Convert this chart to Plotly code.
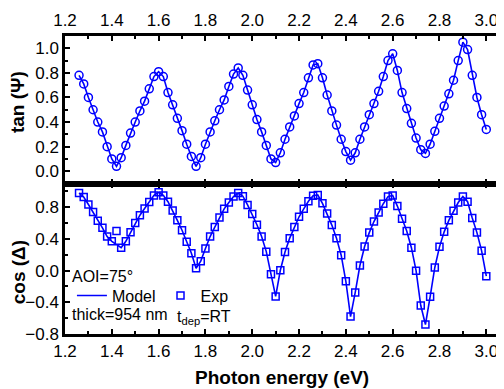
import plotly.graph_objects as go

# Photon energy grid (step 0.02 eV)
energy = [round(1.26 + 0.02 * i, 2) for i in range(88)]

tan_exp = [0.78, 0.71, 0.60, 0.50, 0.40, 0.32, 0.20, 0.10, 0.04, 0.11,
           0.21, 0.31, 0.40, 0.49, 0.57, 0.67, 0.77, 0.81, 0.77, 0.64,
           0.54, 0.43, 0.33, 0.22, 0.12, 0.04, 0.11, 0.22, 0.32, 0.41,
           0.50, 0.58, 0.69, 0.79, 0.84, 0.78, 0.66, 0.54, 0.42, 0.32,
           0.21, 0.10, 0.07, 0.15, 0.26, 0.36, 0.45, 0.55, 0.64, 0.76,
           0.865, 0.875, 0.76, 0.62, 0.49, 0.375, 0.26, 0.16, 0.09, 0.15,
           0.26, 0.36, 0.46, 0.55, 0.65, 0.77, 0.90, 0.955, 0.82, 0.64,
           0.51, 0.39, 0.27, 0.175, 0.145, 0.22, 0.325, 0.43, 0.53, 0.63,
           0.74, 0.90, 1.05, 0.99, 0.78, 0.60, 0.46, 0.34]
tan_model = list(tan_exp)

cos_exp = [0.98, 0.93, 0.835, 0.74, 0.63, 0.54, 0.43, 0.37, 0.50, 0.29,
           0.37, 0.485, 0.60, 0.70, 0.785, 0.865, 0.95, 0.99, 0.95, 0.87,
           0.76, 0.635, 0.51, 0.365, 0.22, 0.03, 0.12, 0.28, 0.43, 0.55,
           0.67, 0.78, 0.86, 0.935, 0.98, 0.94, 0.83, 0.715, 0.58, 0.43,
           0.24, -0.045, -0.325, 0.005, 0.235, 0.41, 0.55, 0.68, 0.78, 0.875,
           0.945, 0.955, 0.85, 0.72, 0.575, 0.41, 0.195, -0.135, -0.58, -0.275,
           0.065, 0.305, 0.48, 0.62, 0.735, 0.845, 0.935, 0.95, 0.815, 0.655,
           0.50, 0.29, 0.0, -0.44, -0.68, -0.33, 0.04, 0.30, 0.49, 0.635,
           0.755, 0.86, 0.935, 0.87, 0.665, 0.48, 0.25, -0.07]
cos_model = list(cos_exp)
cos_model[8] = 0.33

# tick values
x_major_ticks = [1.2, 1.4, 1.6, 1.8, 2.0, 2.2, 2.4, 2.6, 2.8, 3.0]
tan_major_ticks = [0.0, 0.2, 0.4, 0.6, 0.8, 1.0]
cos_major_ticks = [-0.8, -0.4, 0.0, 0.4, 0.8]

BLUE = "#0000ff"
FONT = "Liberation Sans, Arial, sans-serif"

fig = go.Figure()
fig.add_trace(go.Scatter(x=energy, y=tan_model, mode="lines", line=dict(color=BLUE, width=1.6),
                         showlegend=False, xaxis="x", yaxis="y"))
fig.add_trace(go.Scatter(x=energy, y=tan_exp, mode="markers",
                         marker=dict(symbol="circle-open", size=8, color=BLUE, line=dict(width=1.5, color=BLUE)),
                         showlegend=False, xaxis="x", yaxis="y"))
fig.add_trace(go.Scatter(x=energy, y=cos_model, mode="lines", name="Model", line=dict(color=BLUE, width=1.6),
                         xaxis="x2", yaxis="y2"))
fig.add_trace(go.Scatter(x=energy, y=cos_exp, mode="markers", name="Exp",
                         marker=dict(symbol="square-open", size=7, color=BLUE, line=dict(width=1.5, color=BLUE)),
                         xaxis="x2", yaxis="y2"))

xr = [1.2, 3.05]
MINOR = dict(ticks="inside", ticklen=3, tickcolor="black", tickwidth=1.5)


def ax(**kw):
    d = dict(showline=True, linecolor="black", linewidth=2.5, ticks="inside", ticklen=5,
             tickwidth=1.5, tickcolor="black", showgrid=False, zeroline=False,
             tickfont=dict(family=FONT, size=17, color="black"))
    d.update(kw)
    return d


fig.update_layout(
    width=496, height=381,
    margin=dict(l=57, r=3, t=23, b=55),
    paper_bgcolor="white", plot_bgcolor="white",
    xaxis=ax(range=xr, domain=[0, 1], anchor="y", side="top", mirror="allticks",
             tickvals=x_major_ticks, tickformat=".1f", minor=dict(MINOR, dtick=0.1)),
    xaxis2=ax(range=xr, domain=[0, 1], anchor="y2", side="bottom", mirror="allticks",
              tickvals=x_major_ticks, tickformat=".1f", minor=dict(MINOR, dtick=0.1)),
    yaxis=ax(range=[-0.1, 1.1], domain=[0.505, 1], anchor="x", mirror=True,
             tickvals=tan_major_ticks, tickformat=".1f", minor=dict(MINOR, dtick=0.1)),
    yaxis2=ax(range=[-0.8, 1.1], domain=[0, 0.505], anchor="x2", mirror=True,
              tickvals=cos_major_ticks, tickformat=".1f", minor=dict(MINOR, dtick=0.2)),
    legend=dict(orientation="h", x=0.016, xanchor="left", y=0.129, yanchor="middle",
                bgcolor="rgba(0,0,0,0)", font=dict(family=FONT, size=16, color="black")),
    showlegend=True,
)

fig.add_annotation(text="<b>tan (Ψ)</b>", xref="paper", yref="paper", x=-0.108, y=0.779,
                   textangle=-90, showarrow=False, font=dict(family=FONT, size=19, color="black"),
                   xanchor="center", yanchor="middle")
fig.add_annotation(text="<b>cos (Δ)</b>", xref="paper", yref="paper", x=-0.108, y=0.208,
                   textangle=-90, showarrow=False, font=dict(family=FONT, size=19, color="black"),
                   xanchor="center", yanchor="middle")
fig.add_annotation(text="<b>Photon energy (eV)</b>", xref="paper", yref="paper", x=0.5, y=-0.145,
                   showarrow=False, font=dict(family=FONT, size=19, color="black"),
                   xanchor="center", yanchor="middle")
fig.add_annotation(text="AOI=75°", xref="paper", yref="paper", x=0.012, y=(334 - 276) / 303,
                   showarrow=False, font=dict(family=FONT, size=16, color="black"),
                   xanchor="left", yanchor="middle")
fig.add_annotation(text="thick=954 nm", xref="paper", yref="paper", x=0.012, y=(334 - 314) / 303,
                   showarrow=False, font=dict(family=FONT, size=16, color="black"),
                   xanchor="left", yanchor="middle")
fig.add_annotation(text="t<sub>dep</sub>=RT", xref="paper", yref="paper", x=(176 - 65) / 436, y=(334 - 317) / 303,
                   showarrow=False, font=dict(family=FONT, size=16, color="black"),
                   xanchor="left", yanchor="middle")

fig.write_html("out.html")
